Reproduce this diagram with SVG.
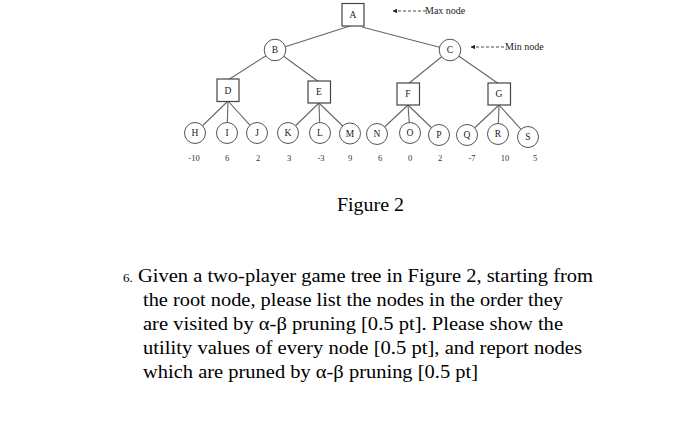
<svg xmlns="http://www.w3.org/2000/svg" width="700" height="427" viewBox="0 0 700 427">
<style>
.e{stroke:#666;stroke-width:1.1;fill:none}
.box{fill:#fff;stroke:#444;stroke-width:1.2}
.cir{fill:#fff;stroke:#555;stroke-width:1}
.lbl{font-family:"Liberation Serif",serif;font-size:9.5px;fill:#222;text-anchor:middle}
.val{font-family:"Liberation Serif",serif;font-size:8.5px;fill:#333;text-anchor:middle}
.note{font-family:"Liberation Serif",serif;font-size:10px;fill:#222}
.dash{stroke:#333;stroke-width:0.9;stroke-dasharray:3,2;fill:none}
.para{font-family:"Liberation Serif",serif;font-size:19.5px;fill:#000}
</style>
<defs>
<marker id="ah" viewBox="0 0 10 10" refX="1" refY="5" markerWidth="5" markerHeight="5" orient="auto">
<path d="M0,5 L10,0 L10,10 Z" fill="#222"/>
</marker>
</defs>
<rect width="700" height="427" fill="#fff"/>
<g id="connectors">
<line class="e" x1="350" y1="26" x2="275" y2="50"/>
<line class="e" x1="362" y1="27" x2="450" y2="50"/>
<line class="e" x1="275" y1="50" x2="228" y2="80"/>
<line class="e" x1="275" y1="50" x2="319" y2="82"/>
<line class="e" x1="450" y1="50" x2="408" y2="84"/>
<line class="e" x1="450" y1="50" x2="499" y2="84"/>
<line class="e" x1="228" y1="101" x2="195" y2="133"/>
<line class="e" x1="228" y1="101" x2="227" y2="133"/>
<line class="e" x1="228" y1="101" x2="257" y2="133"/>
<line class="e" x1="319" y1="103" x2="288" y2="133"/>
<line class="e" x1="319" y1="103" x2="320" y2="133"/>
<line class="e" x1="319" y1="103" x2="350" y2="133"/>
<line class="e" x1="408" y1="105" x2="377" y2="134"/>
<line class="e" x1="408" y1="105" x2="410" y2="133"/>
<line class="e" x1="408" y1="105" x2="439" y2="135"/>
<line class="e" x1="499" y1="105" x2="467" y2="135"/>
<line class="e" x1="499" y1="105" x2="498" y2="134"/>
<line class="e" x1="499" y1="105" x2="528" y2="137"/>
<line class="dash" x1="393" y1="11" x2="426" y2="11" marker-start="url(#ah)"/>
<line class="dash" x1="471" y1="47" x2="505" y2="47" marker-start="url(#ah)"/>
</g>
<g id="A"><rect class="box" x="342" y="3.5" width="22" height="22.5"/><text class="lbl" x="353" y="18">A</text></g>
<g id="B"><circle class="cir" cx="275" cy="50" r="10.8"/><text class="lbl" x="275" y="53.3">B</text></g>
<g id="C"><circle class="cir" cx="450" cy="50" r="10.8"/><text class="lbl" x="450" y="53.3">C</text></g>
<g id="D"><rect class="box" x="217" y="79" width="22" height="22.5"/><text class="lbl" x="228" y="93.5">D</text></g>
<g id="E"><rect class="box" x="308" y="81" width="22.5" height="22"/><text class="lbl" x="319" y="95.3">E</text></g>
<g id="F"><rect class="box" x="397" y="83" width="22.5" height="22"/><text class="lbl" x="408" y="97">F</text></g>
<g id="G"><rect class="box" x="488" y="83" width="22.5" height="22"/><text class="lbl" x="499" y="97">G</text></g>
<g id="H"><circle class="cir" cx="195" cy="133" r="10.5"/><text class="lbl" x="195" y="136.3">H</text></g>
<g id="I"><circle class="cir" cx="227" cy="133" r="10.5"/><text class="lbl" x="227" y="136.3">I</text></g>
<g id="J"><circle class="cir" cx="257" cy="133" r="10.5"/><text class="lbl" x="257" y="136.3">J</text></g>
<g id="K"><circle class="cir" cx="288" cy="133" r="10.5"/><text class="lbl" x="288" y="136.3">K</text></g>
<g id="L"><circle class="cir" cx="320" cy="133" r="10.5"/><text class="lbl" x="320" y="136.3">L</text></g>
<g id="M"><circle class="cir" cx="350" cy="133.5" r="10.5"/><text class="lbl" x="350" y="136.8">M</text></g>
<g id="N"><circle class="cir" cx="377" cy="134" r="10.5"/><text class="lbl" x="377" y="137.3">N</text></g>
<g id="O"><circle class="cir" cx="410" cy="133" r="10.5"/><text class="lbl" x="410" y="136.3">O</text></g>
<g id="P"><circle class="cir" cx="439" cy="135" r="10.5"/><text class="lbl" x="439" y="138.3">P</text></g>
<g id="Q"><circle class="cir" cx="467" cy="135" r="10.5"/><text class="lbl" x="467" y="138.3">Q</text></g>
<g id="R"><circle class="cir" cx="498" cy="134" r="10.5"/><text class="lbl" x="498" y="137.3">R</text></g>
<g id="S"><circle class="cir" cx="528" cy="137" r="10.5"/><text class="lbl" x="528" y="140.3">S</text></g>
<g id="values">
<text class="val" x="194" y="161">-10</text>
<text class="val" x="227" y="161">6</text>
<text class="val" x="258" y="161">2</text>
<text class="val" x="289" y="161">3</text>
<text class="val" x="321" y="161">-3</text>
<text class="val" x="350" y="161">9</text>
<text class="val" x="380" y="161">6</text>
<text class="val" x="410" y="161">0</text>
<text class="val" x="440" y="161">2</text>
<text class="val" x="472" y="161">-7</text>
<text class="val" x="505" y="161">10</text>
<text class="val" x="535" y="161">5</text>
</g>
<text class="note" x="425" y="14">Max node</text>
<text class="note" x="505" y="50">Min node</text>
<text x="337" y="211" font-family="Liberation Serif, serif" font-size="19.5" fill="#000" textLength="67" lengthAdjust="spacingAndGlyphs">Figure 2</text>
<text x="123" y="282" font-family="Liberation Serif, serif" font-size="13" fill="#000">6.</text>
<text class="para" x="138" y="282" textLength="455" lengthAdjust="spacingAndGlyphs">Given a two-player game tree in Figure 2, starting from</text>
<text class="para" x="143" y="306" textLength="420" lengthAdjust="spacingAndGlyphs">the root node, please list the nodes in the order they</text>
<text class="para" x="143" y="330" textLength="420" lengthAdjust="spacingAndGlyphs">are visited by α-β pruning [0.5 pt]. Please show the</text>
<text class="para" x="143" y="354" textLength="439" lengthAdjust="spacingAndGlyphs">utility values of every node [0.5 pt], and report nodes</text>
<text class="para" x="143" y="378" textLength="335" lengthAdjust="spacingAndGlyphs">which are pruned by α-β pruning [0.5 pt]</text>
</svg>
